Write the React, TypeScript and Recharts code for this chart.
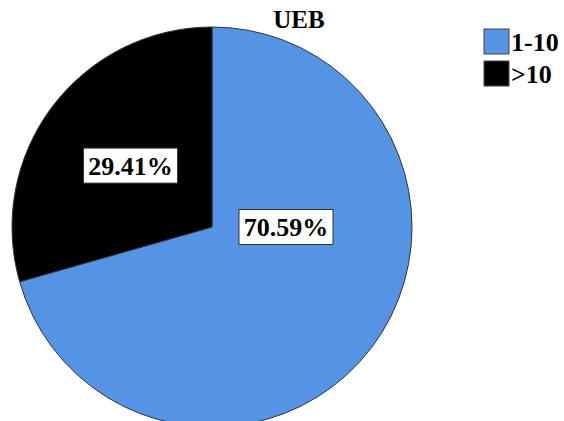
import { Cell, Legend, Pie, PieChart } from "recharts";

const categories = ["1-10", ">10"];
const percents = [70.59, 29.41];
const COLORS = ["#5594e4", "#000000"];
const TITLE = "UEB";

// where each label sits, as (angle in degrees, fraction of radius)
const LABEL_SPOTS = [
  { angle: 0, frac: 0.37 },
  { angle: 143, frac: 0.51 },
];

const data = categories.map((name, i) => ({ name, value: percents[i] }));

const FONT = "Liberation Serif, Times New Roman, Times, serif";
const txt = (size: number) => ({ fontFamily: FONT, fontWeight: 700, fontSize: size });

function renderLabel(props: any) {
  const { cx, cy, outerRadius, index, value } = props;
  const spot = LABEL_SPOTS[index];
  const rad = (spot.angle * Math.PI) / 180;
  const x = cx + Math.cos(rad) * outerRadius * spot.frac;
  const y = cy - Math.sin(rad) * outerRadius * spot.frac;
  const text = `${value.toFixed(2)}%`;
  const w = 94;
  const h = 35;
  return (
    <g key={`lbl-${index}`}>
      <rect x={x - w / 2} y={y - h / 2} width={w} height={h} fill="#fff" stroke="#333" strokeWidth={1} />
      <text x={x} y={y + 9} textAnchor="middle" style={txt(26)} fill="#000">
        {text}
      </text>
    </g>
  );
}

function LegendBox() {
  return (
    <svg width={80} height={60}>
      {categories.map((c, i) => (
        <g key={c}>
          <rect x={1} y={1 + i * 32} width={25} height={25} fill={COLORS[i]} stroke="#444" strokeWidth={1} />
          <text x={28} y={23 + i * 32} style={txt(26)} fill="#000">
            {c}
          </text>
        </g>
      ))}
    </svg>
  );
}

export default function App() {
  return (
    <div style={{ position: "absolute", left: 0, top: 0, width: 564, height: 421, background: "#fff" }}>
      <PieChart width={564} height={421} margin={{ top: 0, right: 0, bottom: 0, left: 0 }}>
        <text x={299} y={28} textAnchor="middle" style={txt(25)} fill="#000">
          {TITLE}
        </text>
        <Pie
          data={data}
          dataKey="value"
          nameKey="name"
          cx={212}
          cy={227}
          outerRadius={200}
          startAngle={90}
          endAngle={-270}
          stroke="#333"
          strokeWidth={1}
          label={renderLabel}
          labelLine={false}
          isAnimationActive={false}
        >
          {data.map((entry, i) => (
            <Cell key={entry.name} fill={COLORS[i]} />
          ))}
        </Pie>
        <Legend
          content={() => <LegendBox />}
          wrapperStyle={{ position: "absolute", left: 483, top: 28, width: 80 }}
        />
      </PieChart>
    </div>
  );
}
